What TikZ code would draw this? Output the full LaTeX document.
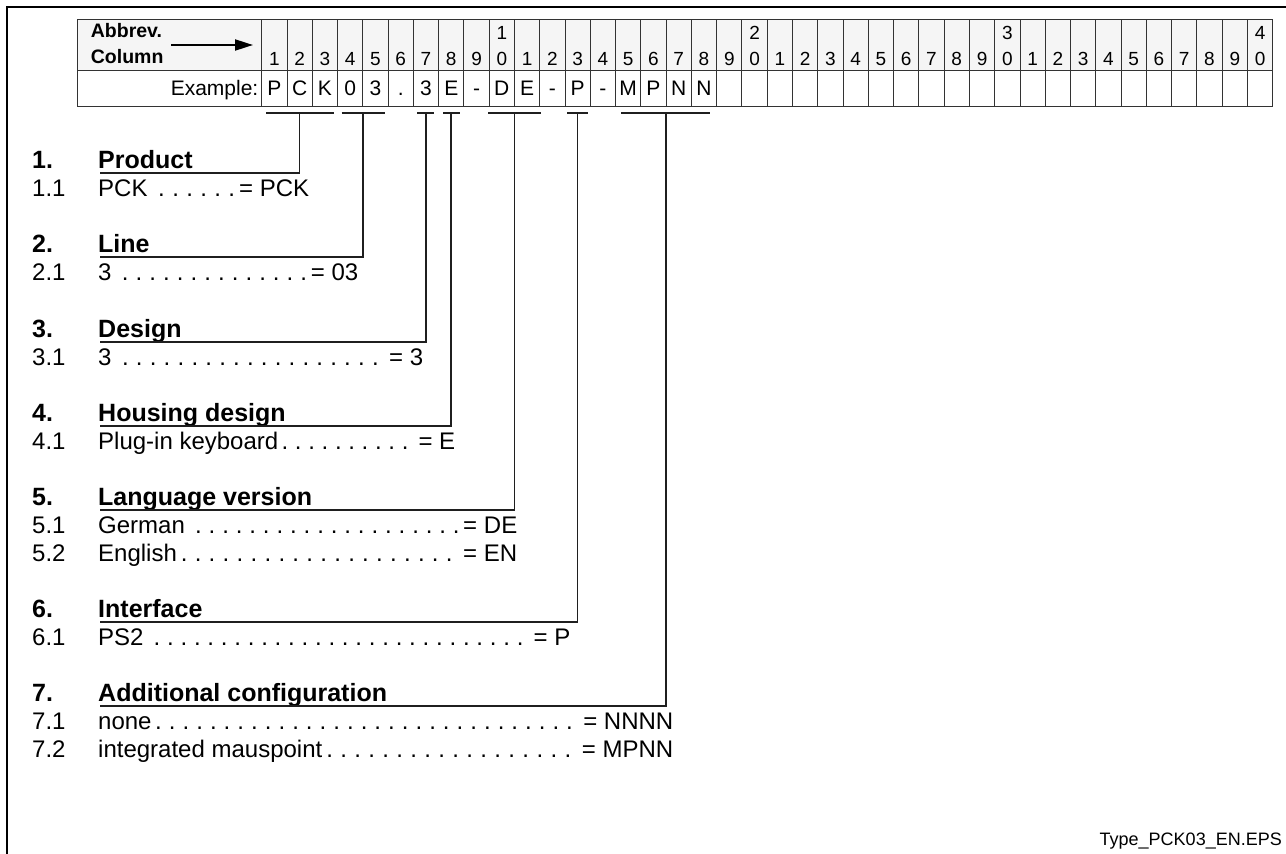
\documentclass[tikz,border=0pt]{standalone}
\usepackage{fontspec}
\setmainfont{Liberation Sans}
\usetikzlibrary{arrows.meta}
\newcommand{\tsect}[7]{%
  \node[head] (num#1) at (32,#4) {#2};
  \node[head] (ttl#1) at (98,#4) {#3};
  \coordinate (bl#1) at (#5,113);
  \coordinate (br#1) at (#6,113);
  \coordinate (top#1) at (#7,113);
  \coordinate (elb#1) at (#7,#4+5);
  \coordinate (st#1) at (100,#4+5);
  \draw[conn] (bl#1) -- (br#1);
  \draw[conn] (top#1) -- (elb#1) -- (st#1);}
\newcommand{\titem}[6]{%
  \node[body] (in#1) at (32,#3) {#2};
  \node[body] (it#1) at (98,#3) {\hbox to \dimexpr #4pt-98pt\relax{#5\xleaders\hbox to 0.556em{\hss.\hss}\hfill#6}};}
\begin{document}
\begin{tikzpicture}[x=1pt,y=-1pt,
  frame/.style={line width=2.8pt},
  gridline/.style={line width=0.9pt, draw=black!80},
  conn/.style={line width=1.5pt, draw=black!88},
  head/.style={font=\fontsize{25}{28}\selectfont\bfseries, anchor=base west, inner sep=0pt},
  body/.style={font=\fontsize{24}{27}\selectfont, anchor=base west, inner sep=0pt},
  hdr/.style={font=\fontsize{19.5}{22}\selectfont\bfseries, anchor=base west, inner sep=0pt},
  cell/.style={font=\fontsize{21}{24}\selectfont, anchor=base, inner sep=0pt},
  dig/.style={font=\fontsize{19}{22}\selectfont, anchor=base, inner sep=0pt},
]
\useasboundingbox (0,0) rectangle (1286,854);
% outer frame
\draw[frame] (1286,7) -- (7,7) -- (7,854);
% table
\fill[black!4] (77,19) rectangle (1272.7,70);
\draw[gridline] (77,19) rectangle (1272.7,106);
\draw[gridline] (77,70) -- (1272.7,70);
\foreach \i in {0,...,39} \draw[gridline] ({261.7+\i*25.275},19) -- ({261.7+\i*25.275},106);
\foreach \i in {1,...,40} {
  \pgfmathtruncatemacro\dd{mod(\i,10)}
  \node[dig] (d\i) at ({261.7+(\i-0.5)*25.275},65) {\dd};
}
\foreach \i/\t in {10/1,20/2,30/3,40/4}
  \node[dig] (t\i) at ({261.7+(\i-0.5)*25.275},39) {\t};
\node[hdr] (abbr) at (90.7,37) {Abbrev.};
\node[hdr] (colm) at (90.7,63) {Column};
\coordinate (arrS) at (171,45);
\coordinate (arrE) at (253,45);
\draw[line width=2pt, -{Triangle[length=18pt,width=11pt]}] (arrS) -- (arrE);
\node[cell, anchor=base east] (ex) at (258.5,95) {Example:};
\foreach \c [count=\i] in {P,C,K,0,3,.,3,E,-,D,E,-,P,-,M,P,N,N}
  \node[cell] (e\i) at ({261.7+(\i-0.5)*25.275},95) {\c};
% sections
\tsect{1}{1.}{Product}{168}{266}{334}{299.6}
\titem{1}{1.1}{196}{309}{PCK\ }{= PCK}
\tsect{2}{2.}{Line}{252}{341.5}{385}{363}
\titem{2}{2.1}{280}{358}{3\ }{= 03}
\tsect{3}{3.}{Design}{337}{417}{434}{426}
\titem{3}{3.1}{365}{423}{3\ }{\ = 3}
\tsect{4}{4.}{Housing design}{421}{443}{460}{451.2}
\titem{4}{4.1}{449}{455}{Plug-in keyboard}{\ = E}
\tsect{5}{5.}{Language version}{505}{488}{541}{514.4}
\titem{5}{5.1}{533}{517}{German\ }{= DE}
\titem{6}{5.2}{561}{517}{English}{\ = EN}
\tsect{6}{6.}{Interface}{617}{567}{588}{577.6}
\titem{7}{6.1}{645}{570}{PS2\ }{\ = P}
\tsect{7}{7.}{Additional configuration}{701}{621}{710}{666}
\titem{8}{7.1}{729}{673}{none}{\ = NNNN}
\titem{9}{7.2}{757}{673}{integrated mauspoint}{\ = MPNN}
\node[font=\fontsize{18}{21}\selectfont, anchor=base east, inner sep=0pt] (fname) at (1282,845) {Type\_PCK03\_EN.EPS};
\end{tikzpicture}
\end{document}
